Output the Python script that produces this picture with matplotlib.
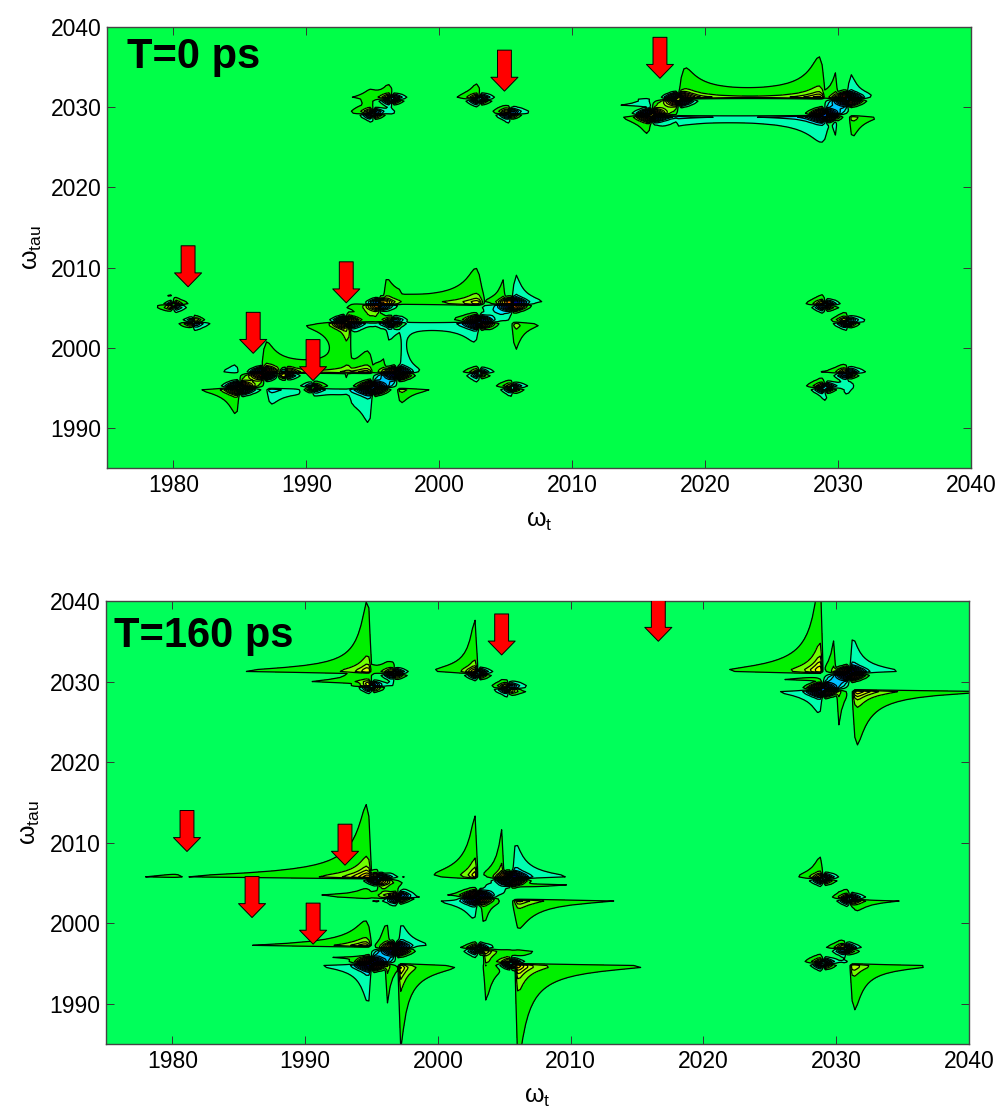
import matplotlib
matplotlib.use('Agg')
import matplotlib.pyplot as plt
import numpy as np

plt.rcParams['font.family'] = ['Liberation Sans', 'DejaVu Sans']
plt.rcParams['mathtext.fontset'] = 'custom'
plt.rcParams['mathtext.rm'] = 'Liberation Sans'
plt.rcParams['mathtext.it'] = 'Liberation Sans'
plt.rcParams['mathtext.default'] = 'regular'

# lobes: peak x, peak y, reach in x, reach in y, sign
top_lobes = [
    (2016, 2029, -3.7, -2.5, 1), (2016, 2029, 13, -1.2, -1), (2016, 2030, -2.5, 1.2, -1),
    (2018, 2031, 11, 3.5, 1), (2029, 2031, -10.5, 4, 1), (2029.3, 2029, -11, -3, -1),
    (2030.8, 2029, 3, -2.7, 1), (2030.7, 2031, 2.5, 3.6, -1), (2030, 2031, -0.8, 3, 1),
    (2030, 2029, -0.6, -2.8, -1), (2018, 2031, -0.8, -2, 1),
    (1985, 1995, -4, -3.5, 1), (1985, 1996.8, -2.5, 1.5, -1), (1986.6, 1996.8, 6, 3, 1),
    (1987, 1995, 3, -1.8, -1), (1995, 1995, -5, -4, -1), (1996.8, 1995, 3, -2.3, 1),
    (1997, 1996.8, 2, 3, -1), (1995, 1996.8, -8, 2.5, 1), (1996, 1996.8, -1, 2, 1),
    (1993.3, 2003.2, -3.3, -6.5, 1), (1993.3, 2003.2, 3.5, -1.8, -1),
    (1995.8, 2005.4, 2.5, 2.8, 1), (2003.3, 2005.4, -8, 3.2, 1), (1995.5, 2005.4, -2.5, -2, 1),
    (1996, 2003.2, 1, -1.5, -1), (2003, 2003.2, -3.5, -2.6, -1), (2005.5, 2005.4, -2.5, -2, -1),
    (2005.5, 2005.4, 2.7, 4, -1), (2005, 2005.4, -1, 3, 1), (2005.5, 2003.2, 2, -3, 1),
    (2003, 2003.4, -2.5, 1, 1), (2003.5, 2003.2, 1.2, -1, 1),
]
bot_lobes = [
    (1995, 1997, -8.5, 3.4, 1), (1995, 1995, -4.5, -4.8, -1), (1996, 1995, 0.9, -5.5, 1),
    (1997, 1995, 3.5, -9.5, 1), (1997, 1997, 2.6, 3, -1), (1996.3, 1997, -0.8, 3, 1),
    (1995, 1996, -5.5, -0.4, 1),
    (2003, 2005.5, -3.4, 7, 1), (2005, 2005.5, -1.7, 6.7, 1), (2005.6, 2005.5, 4, 4.5, -1),
    (2006, 2005, 6.5, -0.4, 1), (2003, 2003, -3, -3, -1), (2003.3, 2003, 1, -3, 1),
    (2005.7, 2003, 6.2, -3.2, 1), (2003, 2003.3, -3.4, 0.6, 1),
    (1995, 2005.5, -9.5, 6.8, 1), (1996, 2005.5, 1.5, 1, -1), (1995.5, 2005.3, 3, -2, 1),
    (1996.6, 2003.2, -4.5, 0.7, 1), (1997.2, 2003, 1.5, 1.5, -1), (1997, 2003, -1.5, -0.6, -1),
    (2003.4, 1996.8, 3, -4.7, 1), (2005.8, 1995, 6.5, -9, 1),
    (1995, 2031, -4.5, 4.5, 1), (1995, 2029.8, -3.5, 0.6, 1), (2003, 2031, -2.2, 3.5, 1),
    (2005.3, 2029, 2.2, -1, 1),
    (2029, 2031, -6.5, 10, 1), (2030, 2031, -0.8, 4.5, 1), (2031, 2031, 3.5, 4.5, -1),
    (2029, 2029, -3.5, -3.5, -1), (2030, 2029, 0.7, -5, 1), (2031.2, 2029, 10, -6, 1),
    (2029, 2030, -5, 0.5, 1),
    (2031, 1995, 4.2, -4.8, 1), (2029, 2005.5, -1.5, 2, 1), (2031, 2003, 3.4, -1.5, 1),
    (1980.7, 2005.6, -0.5, 0.1, 1),
]

# small four-winged peaks: x, y, weight
top_wings = [
    (1995, 2029.2, 0.8), (1996.4, 2031, 0.8), (2003, 2031, 0.8), (2005.3, 2029.2, 0.8),
    (1980, 2005.3, 0.7), (1981.5, 2003.2, 0.7), (2003, 1996.8, 0.7), (2005.5, 1995, 0.7),
    (2029, 1995, 0.8), (2030.7, 1996.8, 0.8), (2029, 2005.3, 0.8), (2030.7, 2003.2, 0.8),
]
bot_wings = [
    (1995, 2029.4, 0.6), (1996.7, 2031, 0.6), (2003, 2031, 0.6), (2005.3, 2029.2, 0.6),
    (2003, 1996.8, 0.6), (2005.5, 1995, 0.6), (2029, 1995, 0.6), (2030.7, 1996.8, 0.6),
    (2029, 2005.5, 0.6), (2031, 2003, 0.6),
]

# dense cores: x, y, strength
top_cores = [
    (1985, 1995, 10), (1986.8, 1996.8, 10), (1995, 1995, -12), (1996.8, 1996.8, -10),
    (1993, 2003.2, 8), (1995.5, 2005.4, 6), (2003, 2003.2, -10), (2005.5, 2005.4, -10),
    (2016, 2029, 12), (2018, 2031, 10), (2029, 2029, -12), (2030.7, 2031, -12),
    (1990.5, 1995, 2), (1988.5, 1996.8, 3), (1996.5, 2003.2, -3),
    (1995, 2029.2, -3), (1996.4, 2031, -3), (2003, 2031, -3), (2005.3, 2029.2, -3),
    (2029, 1995, -3), (2030.7, 1996.8, -3), (2029, 2005.3, -3), (2030.7, 2003.2, -3),
    (2003, 1996.8, -2), (2005.5, 1995, -2), (1980, 2005.3, 2), (1981.5, 2003.2, 2),
]
bot_cores = [
    (1995, 1995, -14), (1996.8, 1996.8, -12), (2003, 2003.2, -14), (2005.5, 2005.5, -14),
    (2029, 2029, -14), (2031, 2031, -14), (1995.5, 2005.5, -5), (1997, 2003.2, -4),
    (1995, 2029.4, -3), (1996.7, 2031, -3), (2003, 2031, -3), (2005.3, 2029.2, -3),
    (2003, 1996.8, -3), (2005.5, 1995, -3), (2029, 1995, -3), (2030.7, 1996.8, -3),
    (2029, 2005.5, -3), (2031, 2003, -3),
]

# flat patches between the paired peaks: x, y, height
top_patches = [(1985.9, 1995.9, 3.8), (1995.9, 1995.9, -4.2), (2017, 2030, 3.8), (2029.9, 2030, -4.5),
               (1995, 2004.3, 1.6), (2004.3, 2004.3, -2)]
bot_patches = [(1995.9, 1995.9, -5), (2004.3, 2004.3, -2.2), (2030, 2030, -5)]

# arrow tips (omega_t, omega_tau)
top_tips_x = [1981.1, 1986, 1990.5, 1993, 2004.9, 2016.6]
top_tips_y = [2007.6, 1999.3, 1995.9, 2005.6, 2032, 2033.6]
bot_tips_x = [1981.1, 1986, 1990.6, 1993, 2004.8, 2016.6]
bot_tips_y = [2008.9, 2000.7, 1997.4, 2007.2, 2033.3, 2035]

xticks = [1980, 1990, 2000, 2010, 2020, 2030, 2040]
yticks = [1990, 2000, 2010, 2020, 2030, 2040]

levels = [-60, -40, -28, -20, -14, -10, -7, -5, -3, -1, 1, 3, 5, 7, 10, 14, 20, 28, 40, 60]
neg_colors = ['#000060', '#000090', '#0000D0', '#0030FF', '#0060FF', '#0090FF', '#00C0FF', '#00E8FF', '#00FFB0']
pos_colors = ['#00F000', '#70FF00', '#B0FF00', '#E0FF00', '#FFF000', '#FFB000', '#FF7000', '#FF3000', '#A00000']


def field(X, Y, lobes, wings, cores, patches):
    Z = np.zeros_like(X)
    for x0, y0, rx, ry, s in lobes:
        wx, wy = abs(rx), abs(ry)
        a = 0.6 * np.sqrt(wx * wy)
        gu = 0.3 * np.sqrt(wx / wy)
        gv = 0.3 * np.sqrt(wy / wx)
        u = (X - x0) * np.sign(rx)
        v = (Y - y0) * np.sign(ry)
        Z += s * a * np.clip(u, 0, None) / (u**2 + gu**2) * np.clip(v, 0, None) / (v**2 + gv**2)
    for x0, y0, b in wings:
        g_x, g_y = 0.55, 0.75
        u = X - x0 + 0.1
        v = Y - y0 - 0.1
        Lu = g_x / (u**2 + g_x**2)
        Du = u / (u**2 + g_x**2)
        Lv = g_y / (v**2 + g_y**2)
        Dv = v / (v**2 + g_y**2)
        Z += b * (Lu * Dv - Du * Lv)
    for x0, y0, c in cores:
        u = X - x0
        v = Y - y0
        Du = u / (u**2 + 0.04)
        Dv = v / (v**2 + 0.06)
        Z += c * Du * Dv * np.exp(-(u / 0.9)**2 - (v / 0.6)**2) + c * np.exp(-(u / 0.5)**2 - (v / 0.3)**2)
    for x0, y0, h in patches:
        Z += h * np.exp(-((X - x0) / 0.8)**4 - ((Y - y0) / 0.7)**4)
    return Z


def panel(rect, data, tx, ty, bg, title, title_xy):
    ax = fig.add_axes([rect[0] / 1001, 1 - rect[3] / 1112,
                       (rect[2] - rect[0]) / 1001, (rect[3] - rect[1]) / 1112])
    xs = np.arange(1975, 2040.01, 0.2)
    ys = np.arange(1985, 2040.01, 0.25)
    X, Y = np.meshgrid(xs, ys)
    Z = np.clip(field(X, Y, *data), -59, 59)
    ax.contourf(X, Y, Z, levels=levels, colors=neg_colors + [bg] + pos_colors)
    ax.contour(X, Y, Z, levels=levels, colors='k', linewidths=0.9, linestyles='solid')
    for x, y in zip(tx, ty):
        ann = ax.annotate('', xy=(x, y), xytext=(0, 41), textcoords='offset pixels',
                          arrowprops=dict(width=10, headwidth=19.5, headlength=10, shrink=0,
                                          fc='#FF0000', ec='k', lw=0.7))
        ann.arrow_patch.set_clip_path(ax.patch)
    ax.set_xlim(1975, 2040)
    ax.set_ylim(1985, 2040)
    ax.set_xticks(xticks)
    ax.set_yticks(yticks)
    ax.tick_params(direction='in', length=6, width=0.7, top=True, right=True,
                   labelsize=16.5, pad=4, color='#333333')
    for s in ax.spines.values():
        s.set_linewidth(1.0)
        s.set_color('#444444')
    ax.set_xlabel(r'$\omega_t$', fontsize=18, labelpad=9)
    ax.set_ylabel(r'$\omega_{tau}$', fontsize=18, labelpad=5)
    ax.text(title_xy[0], title_xy[1], title, transform=ax.transAxes, fontsize=30,
            fontweight='bold', va='center', ha='left')
    return ax


fig = plt.figure(figsize=(10.01, 11.12), dpi=100)
panel((107, 27, 971, 468), (top_lobes, top_wings, top_cores, top_patches),
      top_tips_x, top_tips_y, '#00FF48', 'T=0 ps', (0.023, 0.932))
panel((106, 601, 969, 1044), (bot_lobes, bot_wings, bot_cores, bot_patches),
      bot_tips_x, bot_tips_y, '#00FF5A', 'T=160 ps', (0.009, 0.92))
fig.savefig('out.png', dpi=100)
